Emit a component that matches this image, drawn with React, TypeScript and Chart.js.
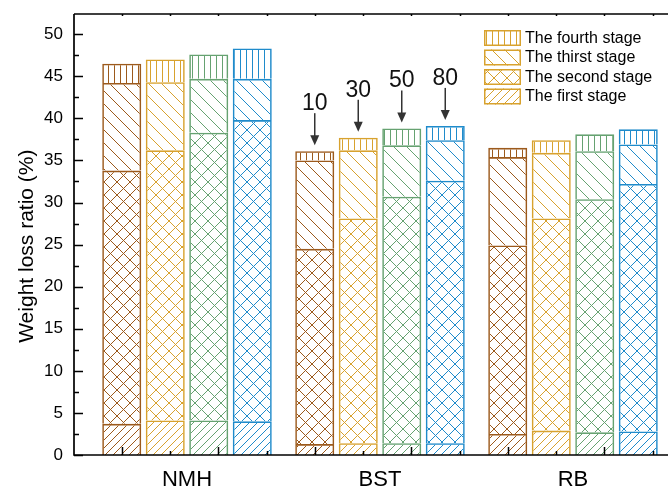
import React, { useEffect, useRef } from 'react';
import { Chart, registerables } from 'chart.js';

Chart.register(...registerables);

const FONT = "Arial, 'Liberation Sans', Helvetica, sans-serif";

// ---- data ----
const categories = ['NMH', 'BST', 'RB'];
const speeds = ['10', '30', '50', '80'];
const stageNames = ['The first stage', 'The second stage', 'The thirst stage', 'The fourth stage'];
const yTickValues = [0, 5, 10, 15, 20, 25, 30, 35, 40, 45, 50];
const yMax = 52.4;

// stage increments, per category [NMH, BST, RB]
const first10 = [3.7, 1.3, 2.5];
const second10 = [30.1, 23.2, 22.4];
const third10 = [10.4, 10.5, 10.5];
const fourth10 = [2.3, 1.1, 1.1];

const first30 = [4.1, 1.4, 2.9];
const second30 = [32.1, 26.7, 25.2];
const third30 = [8.1, 8.1, 7.8];
const fourth30 = [2.7, 1.5, 1.5];

const first50 = [4.1, 1.4, 2.7];
const second50 = [34.2, 29.3, 27.7];
const third50 = [6.4, 6.1, 5.7];
const fourth50 = [2.9, 2.0, 2.0];

const first80 = [4.0, 1.4, 2.8];
const second80 = [35.8, 31.2, 29.4];
const third80 = [4.9, 4.8, 4.7];
const fourth80 = [3.6, 1.7, 1.8];

const seriesBySpeed = [
  [first10, second10, third10, fourth10],
  [first30, second30, third30, fourth30],
  [first50, second50, third50, fourth50],
  [first80, second80, third80, fourth80],
];

// ---- styles ----
const speedColors = ['#9C5A1C', '#D8A22E', '#66A271', '#1F8BCB'];
const legendColor = '#D8A22E';
const annotatedCategory = 1; // BST
const xMinorTickStart = -0.337;
const xMinorTickStep = 0.25;

function makePattern(color: string, kind: number): CanvasPattern | string {
  const sizes = [8, 13, 13, 6];
  const s = sizes[kind];
  const c = document.createElement('canvas');
  c.width = s;
  c.height = s;
  const g = c.getContext('2d');
  if (!g) return color;
  g.strokeStyle = color;
  g.lineWidth = 1;
  g.beginPath();
  if (kind === 0 || kind === 1) {
    for (let k = -1; k <= 1; k++) {
      g.moveTo(k * s - 1, s + 1);
      g.lineTo(k * s + s + 1, -1);
    }
  }
  if (kind === 1 || kind === 2) {
    for (let k = -1; k <= 1; k++) {
      g.moveTo(k * s - 1, -1);
      g.lineTo(k * s + s + 1, s + 1);
    }
  }
  if (kind === 3) {
    g.moveTo(0.5, 0);
    g.lineTo(0.5, s);
  }
  g.stroke();
  return g.createPattern(c, 'repeat') || color;
}

const framePlugin = {
  id: 'frame',
  afterDatasetsDraw(chart: any) {
    const { ctx, chartArea: a, scales } = chart;
    const xs = scales.x;
    const ys = scales.y;
    ctx.save();
    ctx.strokeStyle = '#000';
    ctx.lineWidth = 1.3;
    ctx.beginPath();
    ctx.moveTo(a.left, a.top);
    ctx.lineTo(a.right, a.top);
    ctx.lineTo(a.right, a.bottom);
    ctx.stroke();
    ctx.lineWidth = 1.7;
    ctx.beginPath();
    ctx.moveTo(a.left, a.top);
    ctx.lineTo(a.left, a.bottom);
    ctx.lineTo(a.right, a.bottom);
    ctx.stroke();

    ctx.lineWidth = 1.5;
    ctx.beginPath();
    for (let i = 0; i * 2.5 <= ys.max; i++) {
      const py = Math.round(ys.getPixelForValue(i * 2.5)) + 0.5;
      const len = i % 2 === 0 ? 9 : 5;
      ctx.moveTo(a.left, py);
      ctx.lineTo(a.left + len, py);
    }
    for (let k = 0; ; k++) {
      const v = xMinorTickStart + k * xMinorTickStep;
      if (v > xs.max) break;
      if (v < xs.min) continue;
      const px = Math.round(xs.getPixelForValue(v)) + 0.5;
      const len = k % 2 === 0 ? 8 : 4;
      ctx.moveTo(px, a.bottom);
      ctx.lineTo(px, a.bottom - len);
      ctx.moveTo(px, a.top);
      ctx.lineTo(px, a.top + 2);
    }
    ctx.stroke();
    ctx.restore();
  },
  afterDraw(chart: any) {
    const { ctx } = chart;
    ctx.save();
    // annotations with arrows over BST bars
    for (let s = 0; s < speeds.length; s++) {
      const meta = chart.getDatasetMeta(s * 4 + 3);
      const el = meta.data[annotatedCategory];
      if (!el) continue;
      const x = el.x;
      const top = el.y;
      ctx.fillStyle = '#111';
      ctx.font = `23px ${FONT}`;
      ctx.textAlign = 'center';
      ctx.textBaseline = 'alphabetic';
      ctx.fillText(speeds[s], x, top - 41);
      ctx.strokeStyle = '#333';
      ctx.lineWidth = 1.5;
      ctx.beginPath();
      ctx.moveTo(x, top - 38);
      ctx.lineTo(x, top - 14);
      ctx.stroke();
      ctx.fillStyle = '#333';
      ctx.beginPath();
      ctx.moveTo(x - 4.5, top - 16);
      ctx.lineTo(x + 4.5, top - 16);
      ctx.lineTo(x, top - 6);
      ctx.closePath();
      ctx.fill();
    }
    // legend
    const lx = 484;
    const ly = 30;
    const rowH = 19.5;
    const order = [3, 2, 1, 0];
    order.forEach((stage, r) => {
      const y = ly + r * rowH;
      ctx.fillStyle = makePattern(legendColor, stage);
      ctx.fillRect(lx, y, 37, 16);
      ctx.strokeStyle = legendColor;
      ctx.lineWidth = 1.5;
      ctx.strokeRect(lx + 0.75, y + 0.75, 35.5, 14.5);
      ctx.fillStyle = '#000';
      ctx.font = `16px ${FONT}`;
      ctx.textAlign = 'left';
      ctx.textBaseline = 'middle';
      ctx.fillText(stageNames[stage], lx + 41, y + 8.5);
    });
    ctx.restore();
  },
};

export default function App() {
  const ref = useRef<HTMLCanvasElement | null>(null);

  useEffect(() => {
    if (!ref.current) return;
    const datasets: any[] = [];
    seriesBySpeed.forEach((stages, s) => {
      stages.forEach((values, st) => {
        datasets.push({
          label: `${speeds[s]} ${stageNames[st]}`,
          data: categories.map((_, i) => ({ x: i, y: values[i] })),
          stack: speeds[s],
          backgroundColor: makePattern(speedColors[s], st),
          borderColor: speedColors[s],
          borderWidth: 1.6,
          categoryPercentage: 0.9016,
          barPercentage: 0.897,
        });
      });
    });

    const chart = new Chart(ref.current, {
      type: 'bar',
      data: { datasets },
      plugins: [framePlugin],
      options: {
        responsive: false,
        animation: false,
        events: [],
        layout: { padding: { left: 0, top: 14, right: 14, bottom: 0 } },
        plugins: { legend: { display: false }, tooltip: { enabled: false } },
        scales: {
          x: {
            type: 'linear',
            stacked: true,
            offset: false,
            min: -0.5855,
            max: 2.5855,
            afterBuildTicks: (sc: any) => {
              sc.ticks = categories.map((_, i) => ({ value: i }));
            },
            afterFit: (sc: any) => {
              sc.height = 37;
              sc.paddingLeft = 0;
              sc.paddingRight = 0;
            },
            grid: { display: false, drawTicks: false, offset: false },
            border: { display: false },
            ticks: {
              color: '#000',
              font: { size: 22, family: FONT },
              padding: 12,
              autoSkip: false,
              maxRotation: 0,
              callback: (v: any) => categories[v as number] ?? '',
            },
          },
          y: {
            stacked: true,
            min: 0,
            max: yMax,
            afterBuildTicks: (sc: any) => {
              sc.ticks = yTickValues.map((v) => ({ value: v }));
            },
            afterFit: (sc: any) => {
              sc.width = 74;
              sc.paddingTop = 0;
              sc.paddingBottom = 0;
            },
            grid: { display: false, drawTicks: false },
            border: { display: false },
            ticks: { color: '#000', font: { size: 17, family: FONT }, padding: 11 },
            title: {
              display: true,
              text: 'Weight loss ratio (%)    ',
              color: '#000',
              font: { size: 21, family: FONT },
              padding: { top: 15, bottom: 0 },
            },
          },
        },
      } as any,
    });
    return () => chart.destroy();
  }, []);

  return (
    <div style={{ position: 'fixed', left: 0, top: 0, width: 668, height: 492, overflow: 'hidden', background: '#fff' }}>
      <canvas ref={ref} width={700} height={492} style={{ display: 'block' }} />
    </div>
  );
}
